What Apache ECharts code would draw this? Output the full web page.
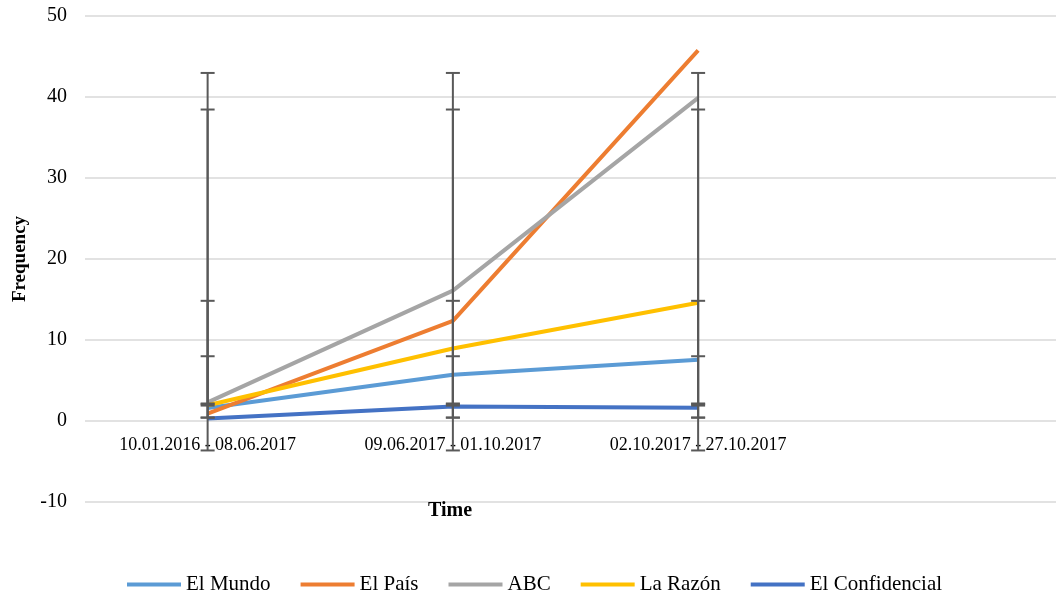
<!DOCTYPE html>
<html>
<head>
<meta charset="utf-8">
<script src="https://cdn.jsdelivr.net/npm/echarts@6/dist/echarts.min.js"></script>
<style>
  html, body { margin: 0; padding: 0; background: #fff; }
  #main { width: 1056px; height: 596px; }
</style>
</head>
<body>
<div id="main"></div>
<script>
// periods on the x axis (last slot is empty, as in the original)
var categories = ['10.01.2016 - 08.06.2017', '09.06.2017 - 01.10.2017', '02.10.2017 - 27.10.2017', ''];
var seriesNames = ['El Mundo', 'El País', 'ABC', 'La Razón', 'El Confidencial'];
var colors = ['#5B9BD5', '#ED7D31', '#A5A5A5', '#FFC000', '#4472C4'];

var elMundo = [1.6, 5.7, 7.55];
var elPais = [0.9, 12.35, 45.75];
var abc = [2.3, 16.1, 39.9];
var laRazon = [1.95, 8.95, 14.6];
var elConfidencial = [0.3, 1.8, 1.65];

var yTicks = { min: -10, max: 50, interval: 10 };

var allValues = [elMundo, elPais, abc, laRazon, elConfidencial];

// standard deviation error bars (excel style: series mean +- stdev)
function sdBar(arr) {
    var n = arr.length, mean = 0, s = 0;
    arr.forEach(function (v) { mean += v; });
    mean = mean / n;
    arr.forEach(function (v) { s += (v - mean) * (v - mean); });
    var sd = Math.sqrt(s / (n - 1));
    return [mean - sd, mean + sd];
}

var fontName = 'Liberation Serif';
var myChart = echarts.init(document.getElementById('main'));

var series = [];
allValues.forEach(function (vals, i) {
    series.push({
        name: seriesNames[i],
        type: 'line',
        data: vals,
        symbol: 'none',
        lineStyle: { width: 4, color: colors[i] },
        itemStyle: { color: colors[i] },
        z: 2
    });
});

var errData = [];
allValues.forEach(function (vals) {
    var b = sdBar(vals);
    vals.forEach(function (v, k) {
        errData.push([k, b[0], b[1]]);
    });
});

series.push({
    type: 'custom',
    name: 'err',
    z: 3,
    silent: true,
    data: errData,
    renderItem: function (params, api) {
        var lo = api.coord([api.value(0), api.value(1)]);
        var hi = api.coord([api.value(0), api.value(2)]);
        var cap = 7;
        var st = { stroke: '#595959', lineWidth: 2 };
        return {
            type: 'group',
            children: [
                { type: 'line', shape: { x1: lo[0], y1: lo[1], x2: hi[0], y2: hi[1] }, style: st },
                { type: 'line', shape: { x1: lo[0] - cap, y1: lo[1], x2: lo[0] + cap, y2: lo[1] }, style: st },
                { type: 'line', shape: { x1: hi[0] - cap, y1: hi[1], x2: hi[0] + cap, y2: hi[1] }, style: st }
            ]
        };
    }
});

var option = {
    animation: false,
    textStyle: { fontFamily: fontName },
    title: {
        text: 'Time',
        left: 428,
        top: 501,
        padding: 0,
        textStyle: { fontFamily: fontName, fontSize: 20, fontWeight: 'bold', color: '#000' }
    },
    grid: { left: 85, right: -10, top: 16, bottom: 94, containLabel: false, outerBoundsMode: 'none' },
    legend: {
        data: seriesNames,
        left: 122,
        top: 569,
        icon: 'rect',
        itemWidth: 54,
        itemHeight: 4,
        itemGap: 30,
        textStyle: { fontFamily: fontName, fontSize: 21, color: '#000' }
    },
    xAxis: {
        type: 'category',
        data: categories,
        boundaryGap: true,
        axisLine: { show: false },
        axisTick: { show: false },
        // labels sit just under the zero line, like the original
        axisLabel: { interval: 0, margin: -66, fontSize: 18, color: '#000', fontFamily: fontName }
    },
    yAxis: {
        type: 'value',
        min: yTicks.min,
        max: yTicks.max,
        interval: yTicks.interval,
        axisLine: { show: false },
        axisTick: { show: false },
        axisLabel: { margin: 18, fontSize: 20, color: '#000', fontFamily: fontName },
        splitLine: { lineStyle: { color: '#D9D9D9', width: 1.5 } },
        name: 'Frequency',
        nameLocation: 'middle',
        nameGap: 55,
        nameTextStyle: { fontFamily: fontName, fontSize: 19, fontWeight: 'bold', color: '#000' }
    },
    series: series
};
myChart.setOption(option);
</script>
</body>
</html>
